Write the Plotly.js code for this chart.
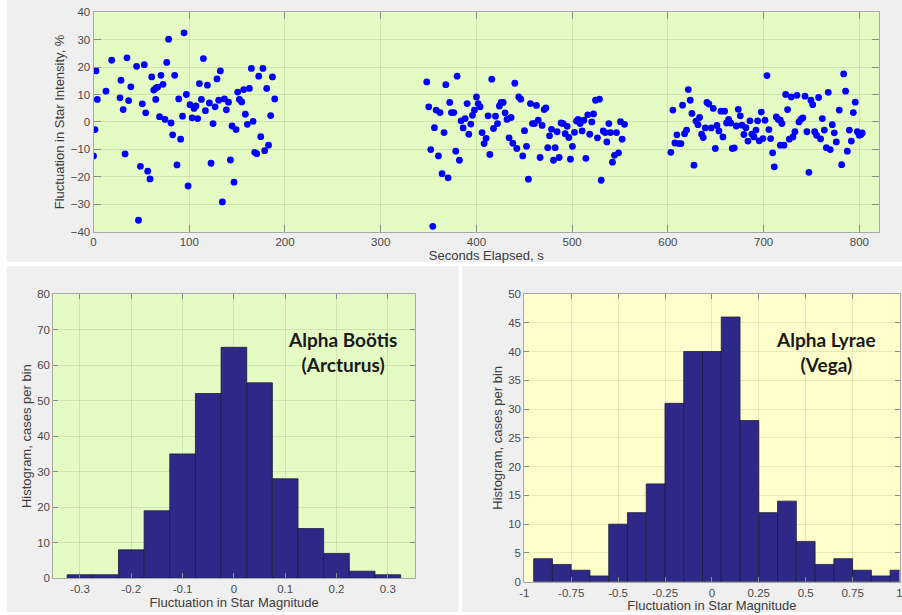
<!DOCTYPE html>
<html>
<head>
<meta charset="utf-8">
<script src="https://cdn.plot.ly/plotly-3.0.1.min.js"></script>
<style>
html,body{margin:0;padding:0;background:#ffffff;}
#chart{width:902px;height:615px;}
</style>
</head>
<body>
<div id="chart"></div>
<script>
// ---------- Top panel: scintillation time series ----------
const seconds = [
  2.6,4,1.6,0,13,19,28.7,27.7,31,33,35,36.7,39,45,49,47,51,53,54.5,56.6,59,60.8,62.9,65,65,67,69,70.5,72.6,74.7,
  76.5,78.5,81,82.7,84.8,87.2,89,91,93,94.6,97,98.8,100.8,103,105,107,108.8,110.6,112.7,114.8,116.9,119,121,122.8,124.9,
  127,129,130.8,132.5,134.6,136.7,138.8,141,143,144.7,146.8,148.9,150.6,152.4,154.8,156.9,158.6,160.7,162.8,164.9,166.7,
  168.4,170.5,172.6,174.7,177,178.8,180.9,182.8,185.1,186.9,189.3,
  348.1,350.2,352.3,354.4,356.1,357.9,360.3,362,364.1,366.2,368,370.4,372.1,373.9,376.3,378.4,379.8,382.2,384,386.1,
  388.2,390.3,392,394.1,395.8,397.9,400,401.8,403.8,405.9,408,410.1,412.2,414,416,417.8,419.9,422,424,425.8,427.9,430,
  432,434.1,436.2,438,440.1,442.2,444.2,446.3,448.4,450.2,452.3,454.3,456.4,458.5,460.6,462.7,464.5,466.5,468.6,470.7,
  472.5,474.5,476.3,478.4,480.5,482.2,484.3,486.4,488.5,490.6,492.7,494.8,496.5,498.2,500.3,502.4,504.5,506.2,508.3,
  510.4,512.2,514.3,516.3,518.4,520.5,522.3,524.4,526.4,528.5,530.3,532.4,534.5,536.2,538.3,540,542.1,544.2,546.3,548.4,
  550.5,552.2,554.7,
  603.1,605.2,607.3,609.4,611.5,613.6,615.3,617.4,619.5,621.3,623.3,625.1,627.2,629.3,631.4,633.1,635.2,636.9,639,640.8,
  642.8,645.3,647.4,649.5,651.2,653.3,655.4,657.5,659.2,661.3,663.4,665.5,667.2,669.3,671.4,673.5,675.6,677.3,679.4,681.5,
  683.6,685.7,687.8,689.9,692,693.7,695.4,697.5,699.3,701.4,703.5,705.5,707.3,709.4,711.1,713.2,715.3,717.4,719.1,717.4,
  721.2,723,725,726.8,728.9,730.6,732.7,734.8,736.9,739,741,743.2,745.2,747.3,749.4,751.2,753.3,755.4,757.4,759.5,
  761.3,763.4,765.5,767.5,769.6,771.7,773.8,775.9,779,781.5,783.6,785.6,787.4,789.5,791.6,793.7,795.7,797.8,799.9,802,803
];
const intensityFluct = [
  18.6,8.2,-2.8,-12.4,11.2,22.5,15.2,8.8,4.5,-11.7,23.4,7.8,12.8,20.3,-16.2,-35.9,6.6,20.9,3.3,-18,-20.8,16.4,11.6,8.2,12.3,
  12.7,1.9,17,13.7,0.9,21.7,30.2,-0.4,-4.7,17,-15.7,8.4,-6.3,2.1,32.5,10,-23.4,6.3,1.5,4.9,5.8,1.2,14,8.2,23.1,4.1,13.4,
  6.9,-15.1,-0.6,5.5,15.7,7.9,18.6,-29.2,8.4,4.4,7.2,-13.9,-1.5,-22,-2.8,10.9,8.2,7.3,11.8,2.8,-0.9,12.2,19.5,0.2,-11.1,
  -11.6,16.7,-5.4,19.5,-10.5,12.2,-8.5,2.3,16.4,8.4,
  14.6,5.5,-10.1,-38.1,-2.1,4.3,-12.4,3.4,-18.9,-3.9,13.6,-20.4,7.1,3.4,3.4,-10.7,16.7,-14,0.4,-2.2,1.2,6.7,-4.5,-0.8,
  2.4,4.3,9.1,6.7,5.5,-3.9,-7.9,-6,2.2,-11.9,15.6,-2.4,2.1,-0.6,5.8,7.1,7.1,3.3,0.9,-5.8,1.6,-7.8,14.1,-9.7,9.1,8.3,
  -12.4,-3.2,-8.9,-20.9,6.7,-0.6,-0.6,6,0.6,-13,-1.3,4.5,5.1,-9.4,-5.1,-2.7,-14,-9.4,-3.6,-13,-0.4,-0.6,-4.3,-1.6,-5.7,
  -13.6,-8.9,-3.8,0.3,0.9,-0.6,-3.3,0.6,-13.3,2.6,-4.5,0,2.9,7.9,-5.8,8.3,-21.3,-3.3,-3.9,-7.3,-0.6,-3.9,-14.7,-12.2,
  -3.9,-11.3,0.1,-6.3,-0.9,
  -11.1,4.3,-7.7,-4.7,-7.9,-7.9,6.1,-4.3,-3,11.8,7.9,3.1,-15.8,0.3,-1,1.6,-4.5,-5.7,-2.2,7.1,6.5,-2.2,4.9,-9.7,-1.3,
  -3.3,3.9,-5.5,3.9,-0.4,0.9,-0.4,-9.7,-9.5,-1.5,4.6,2.2,-1.2,-4.6,-2.1,-7,0.4,-4.5,-5.5,-3,0.4,-6.9,3.6,-6.1,0.6,16.9,
  -2.8,-6.1,-11.3,-16.4,1.8,0.9,0.6,-0.6,-8.5,-8.5,10,4.5,-6.3,9.1,-5.5,-3.6,9.7,0,1,1.5,9.4,-3.6,-18.4,7.9,6.3,-3.6,
  -4.9,8.9,-6.2,1.2,-3,-9.4,10.8,-10.1,-1,-4,-7.3,4.3,-15.6,17.5,11.2,-10.7,-3,-7,3.4,7.2,-3.6,-4.9,-4.5,-4
];
const topXTicks = [0,100,200,300,400,500,600,700,800];
const topYTicks = [-40,-30,-20,-10,0,10,20,30,40];

// ---------- Bottom-left: Arcturus histogram ----------
const arcturusBins = [-0.3,-0.25,-0.2,-0.15,-0.1,-0.05,0,0.05,0.1,0.15,0.2,0.25,0.3];
const arcturusCounts = [1,1,8,19,35,52,65,55,28,14,7,2,1];
const arcturusXTicks = [-0.3,-0.2,-0.1,0,0.1,0.2,0.3];
const arcturusXTickText = ['-0.3','-0.2','-0.1','0','0.1','0.2','0.3'];
const arcturusYTicks = [0,10,20,30,40,50,60,70,80];

// ---------- Bottom-right: Vega histogram ----------
const vegaBins = [-0.9,-0.8,-0.7,-0.6,-0.5,-0.4,-0.3,-0.2,-0.1,0,0.1,0.2,0.3,0.4,0.5,0.6,0.7,0.8,0.9,1.0];
const vegaCounts = [4,3,2,1,10,12,17,31,40,40,46,28,12,14,7,3,4,2,1,2];
const vegaXTicks = [-1,-0.75,-0.5,-0.25,0,0.25,0.5,0.75,1];
const vegaXTickText = ['-1','-0.75','-0.5','-0.25','0','0.25','0.5','0.75','1'];
const vegaYTicks = [0,5,10,15,20,25,30,35,40,45,50];

const labels = {
  topX: 'Seconds Elapsed, s',
  topY: 'Fluctuation in Star Intensity, %',
  histX: 'Fluctuation in Star Magnitude',
  histY: 'Histogram, cases per bin',
  arcturus: 'Alpha Boötis<br>(Arcturus)',
  vega: 'Alpha Lyrae<br>(Vega)'
};

// ---------- styling ----------
const W = 902, H = 615;
const px = v => v / W;
const py = v => 1 - v / H;
const tickFont = {family: 'Liberation Sans, Arial, sans-serif', size: 11.5, color: '#4a4a4a'};
const titleFont = {family: 'Liberation Sans, Arial, sans-serif', size: 13, color: '#3c3c3c'};
const gridColor = 'rgba(0,0,0,0.09)';
const lineColor = '#a8a8a8';
const barColor = '#2e2888';

function axisBase(extra) {
  return Object.assign({
    showgrid: true, gridcolor: gridColor, gridwidth: 1,
    zeroline: false, showline: true, linecolor: lineColor, linewidth: 1,
    mirror: 'ticks', ticks: 'inside', ticklen: 6, tickcolor: '#8a8a8a',
    tickfont: tickFont, fixedrange: true, ticklabeloverflow: 'allow'
  }, extra);
}

const traces = [
  {
    type: 'scatter', mode: 'markers', x: seconds, y: intensityFluct,
    xaxis: 'x', yaxis: 'y',
    marker: {color: '#0000ff', size: 6.8, line: {width: 0}},
    hoverinfo: 'skip'
  },
  {
    type: 'bar', x: arcturusBins, y: arcturusCounts, width: 0.05,
    xaxis: 'x2', yaxis: 'y2',
    marker: {color: barColor, line: {color: '#1c1c3a', width: 0.8}},
    hoverinfo: 'skip'
  },
  {
    type: 'bar', x: vegaBins, y: vegaCounts, width: 0.1,
    xaxis: 'x3', yaxis: 'y3',
    marker: {color: barColor, line: {color: '#1c1c3a', width: 0.8}},
    hoverinfo: 'skip'
  }
];

const layout = {
  width: W, height: H,
  margin: {l: 0, r: 0, t: 0, b: 0},
  paper_bgcolor: '#ffffff',
  showlegend: false,
  bargap: 0,
  xaxis: axisBase({
    domain: [px(93.5), px(879)], anchor: 'y', range: [0, 820.5],
    tickvals: topXTicks, ticklen: 7,
    title: {text: labels.topX, font: titleFont, standoff: 1}
  }),
  yaxis: axisBase({
    domain: [py(231.5), py(12.3)], anchor: 'x', range: [-40, 40],
    tickvals: topYTicks, ticklen: 7,
    title: {text: labels.topY, font: titleFont, standoff: 3}
  }),
  xaxis2: axisBase({
    domain: [px(53.3), px(415)], anchor: 'y2', range: [-0.352, 0.353],
    tickvals: arcturusXTicks, ticktext: arcturusXTickText, ticklen: 5,
    title: {text: labels.histX, font: titleFont, standoff: 1}
  }),
  yaxis2: axisBase({
    domain: [py(578.3), py(294)], anchor: 'x2', range: [0, 80],
    tickvals: arcturusYTicks, ticklen: 5,
    title: {text: labels.histY, font: titleFont, standoff: 2}
  }),
  xaxis3: axisBase({
    domain: [px(524.3), px(899.5)], anchor: 'y3', range: [-1, 1],
    tickvals: vegaXTicks, ticktext: vegaXTickText, ticklen: 5,
    title: {text: labels.histX, font: titleFont, standoff: 1}
  }),
  yaxis3: axisBase({
    domain: [py(581.7), py(294)], anchor: 'x3', range: [0, 50],
    tickvals: vegaYTicks, ticklen: 5,
    title: {text: labels.histY, font: titleFont, standoff: 2}
  }),
  shapes: [
    {type: 'rect', xref: 'paper', yref: 'paper', x0: px(7), x1: 1, y0: py(262), y1: 1,
     fillcolor: '#efefef', line: {width: 0}, layer: 'below'},
    {type: 'rect', xref: 'paper', yref: 'paper', x0: px(7), x1: px(458.5), y0: py(612), y1: py(266),
     fillcolor: '#efefef', line: {width: 0}, layer: 'below'},
    {type: 'rect', xref: 'paper', yref: 'paper', x0: px(462), x1: 1, y0: py(612), y1: py(266),
     fillcolor: '#efefef', line: {width: 0}, layer: 'below'},
    {type: 'rect', xref: 'x domain', yref: 'y domain', x0: 0, x1: 1, y0: 0, y1: 1,
     fillcolor: '#e5fbc4', line: {width: 0}, layer: 'below'},
    {type: 'rect', xref: 'x2 domain', yref: 'y2 domain', x0: 0, x1: 1, y0: 0, y1: 1,
     fillcolor: '#e5fbc4', line: {width: 0}, layer: 'below'},
    {type: 'rect', xref: 'x3 domain', yref: 'y3 domain', x0: 0, x1: 1, y0: 0, y1: 1,
     fillcolor: '#ffffcc', line: {width: 0}, layer: 'below'}
  ],
  annotations: [
    {xref: 'x2', yref: 'y2', x: 0.212, y: 63.6, text: labels.arcturus, showarrow: false,
     font: {family: 'Lato, Open Sans, sans-serif', size: 19, color: '#1a1a1a', weight: 'bold'},
     align: 'center', xanchor: 'center', yanchor: 'middle'},
    {xref: 'x3', yref: 'y3', x: 0.609, y: 39.9, text: labels.vega, showarrow: false,
     font: {family: 'Lato, Open Sans, sans-serif', size: 19, color: '#1a1a1a', weight: 'bold'},
     align: 'center', xanchor: 'center', yanchor: 'middle'}
  ]
};

Plotly.newPlot('chart', traces, layout, {staticPlot: true, displayModeBar: false});
</script>
</body>
</html>
